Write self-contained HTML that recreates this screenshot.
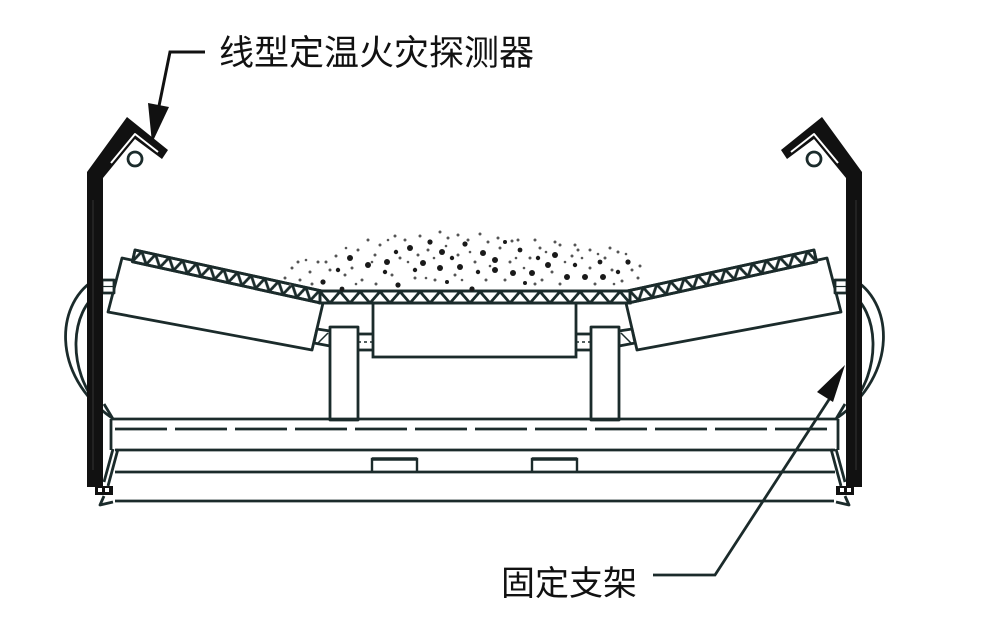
<!DOCTYPE html>
<html>
<head>
<meta charset="utf-8">
<style>
  html,body{margin:0;padding:0;background:#fff;}
  svg{display:block;}
  text{font-family:"Liberation Sans","Noto Sans CJK SC",sans-serif;fill:#111;}
</style>
</head>
<body>
<svg width="988" height="632" viewBox="0 0 988 632" xmlns="http://www.w3.org/2000/svg">
  <defs>
    <pattern id="zz" patternUnits="userSpaceOnUse" x="0" y="0" width="14" height="12">
      <path d="M-0.5,12.5 L7,0 L14.5,12.5" fill="none" stroke="#1b2b2b" stroke-width="2.8"/>
    </pattern>
    <pattern id="zz2" patternUnits="userSpaceOnUse" x="0" y="291" width="20" height="12">
      <path d="M-0.5,0 L10,12 L20.5,0" fill="none" stroke="#1b2b2b" stroke-width="2.8"/>
    </pattern>
  </defs>

  <rect x="0" y="0" width="988" height="632" fill="#fff"/>

  <g id="half" stroke="#1b2b2b" fill="none" stroke-width="2.8" stroke-linejoin="round">
    <!-- outer arcs -->
    <path d="M98,278 C55,300 50,375 112,418"/>
    <path d="M100,292 C70,310 66,370 100,408"/>
    <!-- wing roller -->
    <polygon points="122,258 323,303 312,350 108,312" fill="#fff"/>
    <!-- stub to post -->
    <rect x="102" y="280" width="12" height="13" fill="#fff"/>
    <line x1="102" y1="286.5" x2="114" y2="286.5" stroke-width="1.2"/>
    <!-- inner stub -->
    <polygon points="317,329 330,331 330,346 314,343" fill="#fff"/>
    <line x1="318" y1="343" x2="328" y2="333" stroke-width="1.5"/>
    <!-- middle post -->
    <rect x="330" y="327" width="28" height="93" fill="#fff"/>
    <!-- shaft -->
    <line x1="358" y1="334" x2="373" y2="334"/>
    <line x1="358" y1="350" x2="373" y2="350"/>
    <line x1="358" y1="342" x2="373" y2="342" stroke-dasharray="3 3" stroke-width="1.5"/>
    <!-- inclined belt -->
    <g transform="translate(135,250) rotate(12.37)">
      <rect x="0" y="0" width="192" height="12" fill="#fff"/>
      <rect x="0" y="0" width="192" height="12" fill="url(#zz)"/>
    </g>
    <!-- black post + bracket -->
    <polygon points="87,487 87,172 127,117 168,150 162,159 135,139 103,178 103,487" fill="#111" stroke="none"/>
    <polyline points="111,163 135,134 158,152" stroke="#fff" stroke-width="2"/>
    <line x1="93" y1="200" x2="93" y2="470" stroke="#333" stroke-width="1"/>
    <circle cx="135" cy="159" r="7" fill="#fff"/>
    <!-- frame end details -->
    <path d="M104,404 L113,419"/>
    <line x1="111" y1="419" x2="111" y2="450"/>
    <path d="M118,449 L108,486 M113,449 L104,482"/>
    <rect x="95" y="486" width="18" height="9" fill="#111" stroke="none"/>
    <rect x="98" y="488" width="4" height="4" fill="#fff" stroke="none"/>
    <rect x="105" y="488" width="4" height="4" fill="#fff" stroke="none"/>
    <path d="M104,496 L100,505 L113,502"/>
  </g>
  <use href="#half" transform="translate(949,0) scale(-1,1)"/>

  <g stroke="#1b2b2b" fill="none" stroke-width="2.8">
    <!-- center roller -->
    <rect x="373" y="303" width="203" height="54" fill="#fff"/>
    <!-- flat belt -->
    <rect x="320" y="291" width="310" height="12" fill="#fff"/>
    <rect x="320" y="291" width="310" height="12" fill="url(#zz2)"/>
    <!-- frame -->
    <line x1="111" y1="419" x2="838" y2="419"/>
    <line x1="115" y1="429" x2="835" y2="429" stroke-dasharray="52 8"/>
    <line x1="115" y1="450" x2="835" y2="450"/>
    <line x1="115" y1="472" x2="835" y2="472"/>
    <line x1="115" y1="501" x2="834" y2="501"/>
    <path d="M372,472 L372,459 L417,459 L417,472" stroke-width="2.4"/>
    <line x1="372" y1="459" x2="417" y2="459" stroke-width="3.5"/>
    <path d="M532,472 L532,459 L577,459 L577,472" stroke-width="2.4"/>
    <line x1="532" y1="459" x2="577" y2="459" stroke-width="3.5"/>
  </g>

  <!-- material dots -->
  <g fill="#1a1a1a">
    <circle cx="350" cy="258" r="3"/><circle cx="368" cy="265" r="3"/><circle cx="387" cy="262" r="3"/>
    <circle cx="410" cy="248" r="3"/><circle cx="423" cy="263" r="3"/><circle cx="442" cy="252" r="3"/>
    <circle cx="440" cy="268" r="3"/><circle cx="460" cy="267" r="3"/><circle cx="483" cy="253" r="3"/>
    <circle cx="495" cy="260" r="3"/><circle cx="495" cy="270" r="3"/><circle cx="513" cy="273" r="3"/>
    <circle cx="532" cy="273" r="3"/><circle cx="548" cy="265" r="3"/><circle cx="555" cy="255" r="3"/>
    <circle cx="567" cy="277" r="3"/><circle cx="585" cy="277" r="3"/><circle cx="603" cy="277" r="3"/>
    <circle cx="628" cy="262" r="2.6"/><circle cx="323" cy="282" r="2.6"/><circle cx="398" cy="285" r="2.6"/>
    <circle cx="472" cy="289" r="2.6"/><circle cx="342" cy="289" r="2.4"/><circle cx="430" cy="242" r="2.6"/>
    <circle cx="465" cy="244" r="2.6"/><circle cx="385" cy="272" r="2.2"/><circle cx="520" cy="250" r="2.4"/>
    <circle cx="600" cy="262" r="2.4"/><circle cx="338" cy="270" r="2.2"/><circle cx="415" cy="270" r="2.2"/>
    <circle cx="452" cy="258" r="2.2"/><circle cx="478" cy="272" r="2.2"/><circle cx="538" cy="258" r="2.2"/>
    <circle cx="575" cy="265" r="2.2"/><circle cx="618" cy="272" r="2.2"/><circle cx="396" cy="252" r="2.2"/>
    <circle cx="505" cy="242" r="2"/><circle cx="447" cy="282" r="2"/><circle cx="525" cy="283" r="2"/>
  </g>
  <g fill="#555">
    <circle cx="292" cy="268" r="1.5"/><circle cx="300" cy="280" r="1.5"/><circle cx="310" cy="272" r="1.5"/>
    <circle cx="318" cy="262" r="1.5"/><circle cx="330" cy="270" r="1.5"/><circle cx="336" cy="256" r="1.5"/>
    <circle cx="345" cy="275" r="1.5"/><circle cx="358" cy="250" r="1.5"/><circle cx="362" cy="280" r="1.5"/>
    <circle cx="375" cy="255" r="1.5"/><circle cx="380" cy="245" r="1.5"/><circle cx="392" cy="275" r="1.5"/>
    <circle cx="400" cy="258" r="1.5"/><circle cx="405" cy="240" r="1.5"/><circle cx="415" cy="278" r="1.5"/>
    <circle cx="418" cy="255" r="1.5"/><circle cx="428" cy="250" r="1.5"/><circle cx="435" cy="280" r="1.5"/>
    <circle cx="448" cy="238" r="1.5"/><circle cx="455" cy="275" r="1.5"/><circle cx="458" cy="255" r="1.5"/>
    <circle cx="468" cy="240" r="1.5"/><circle cx="475" cy="262" r="1.5"/><circle cx="486" cy="280" r="1.5"/>
    <circle cx="488" cy="242" r="1.5"/><circle cx="500" cy="248" r="1.5"/><circle cx="505" cy="280" r="1.5"/>
    <circle cx="510" cy="262" r="1.5"/><circle cx="518" cy="240" r="1.5"/><circle cx="535" cy="284" r="1.5"/>
    <circle cx="530" cy="258" r="1.5"/><circle cx="540" cy="248" r="1.5"/><circle cx="542" cy="280" r="1.5"/>
    <circle cx="552" cy="272" r="1.5"/><circle cx="560" cy="245" r="1.5"/><circle cx="572" cy="256" r="1.5"/>
    <circle cx="578" cy="250" r="1.5"/><circle cx="590" cy="268" r="1.5"/><circle cx="595" cy="284" r="1.5"/>
    <circle cx="605" cy="258" r="1.5"/><circle cx="612" cy="270" r="1.5"/><circle cx="618" cy="252" r="1.5"/>
    <circle cx="622" cy="281" r="1.5"/><circle cx="632" cy="270" r="1.5"/><circle cx="638" cy="278" r="1.5"/>
    <circle cx="285" cy="278" r="1.5"/><circle cx="298" cy="262" r="1.5"/><circle cx="352" cy="268" r="1.5"/>
    <circle cx="368" cy="240" r="1.5"/><circle cx="395" cy="236" r="1.5"/><circle cx="420" cy="236" r="1.5"/>
    <circle cx="440" cy="232" r="1.5"/><circle cx="458" cy="235" r="1.5"/><circle cx="480" cy="234" r="1.5"/>
    <circle cx="498" cy="238" r="1.5"/><circle cx="512" cy="241" r="1.5"/><circle cx="535" cy="240" r="1.5"/>
    <circle cx="555" cy="242" r="1.5"/><circle cx="575" cy="245" r="1.5"/><circle cx="590" cy="250" r="1.5"/>
    <circle cx="610" cy="248" r="1.5"/><circle cx="326" cy="262" r="1.5"/><circle cx="312" cy="284" r="1.5"/>
    <circle cx="640" cy="266" r="1.5"/><circle cx="376" cy="284" r="1.5"/><circle cx="560" cy="284" r="1.5"/>
    <circle cx="306" cy="260" r="1.3"/><circle cx="346" cy="248" r="1.3"/><circle cx="372" cy="262" r="1.3"/>
    <circle cx="388" cy="240" r="1.3"/><circle cx="408" cy="262" r="1.3"/><circle cx="426" cy="278" r="1.3"/>
    <circle cx="434" cy="258" r="1.3"/><circle cx="462" cy="280" r="1.3"/><circle cx="470" cy="252" r="1.3"/>
    <circle cx="490" cy="266" r="1.3"/><circle cx="516" cy="258" r="1.3"/><circle cx="524" cy="268" r="1.3"/>
    <circle cx="546" cy="252" r="1.3"/><circle cx="565" cy="262" r="1.3"/><circle cx="582" cy="258" r="1.3"/>
    <circle cx="598" cy="254" r="1.3"/><circle cx="626" cy="254" r="1.3"/><circle cx="614" cy="284" r="1.3"/>
    <circle cx="290" cy="285" r="1.3"/><circle cx="356" cy="284" r="1.3"/><circle cx="446" cy="246" r="1.3"/>
  </g>

  <!-- top label leader -->
  <polyline points="205,52 170,52 159,106" fill="none" stroke="#111" stroke-width="3"/>
  <polygon points="148,103 169,107 152,143" fill="#111"/>
  <text x="219" y="65" font-size="35">线型定温火灾探测器</text>

  <!-- bottom label leader -->
  <polyline points="653,575 715,575 830,398" fill="none" stroke="#1b2b2b" stroke-width="2.8"/>
  <polygon points="845,365 817,392 833,402" fill="#111"/>
  <text x="501" y="595" font-size="34">固定支架</text>
</svg>
</body>
</html>
